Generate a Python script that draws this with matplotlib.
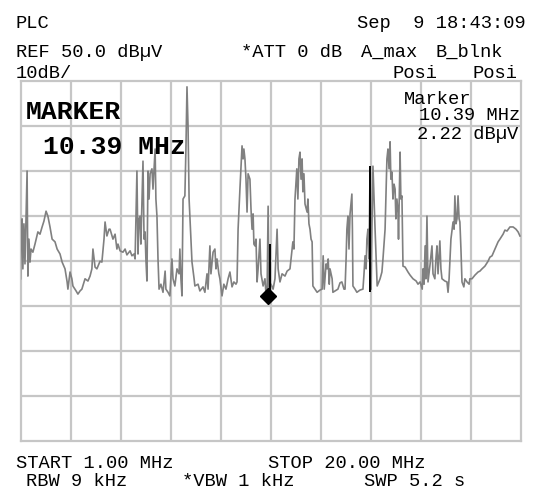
import matplotlib
matplotlib.use("Agg")
import matplotlib.pyplot as plt

# trace A (max hold): frequency in MHz, level in dBuV
freq_mhz = [
    1.00, 1.02, 1.06, 1.09, 1.13, 1.17, 1.21, 1.25, 1.27, 1.28, 1.32, 1.36, 1.40, 1.47, 1.55,
    1.66, 1.74, 1.82, 1.89, 1.97, 2.04, 2.12, 2.20, 2.31, 2.39, 2.50, 2.58, 2.69, 2.77, 2.80,
    2.88, 2.95, 2.99, 3.11, 3.18, 3.26, 3.33, 3.45, 3.56, 3.64, 3.71, 3.75, 3.83, 3.90, 4.02,
    4.09, 4.17, 4.21, 4.28, 4.36, 4.40, 4.51, 4.59, 4.66, 4.70, 4.78, 4.89, 4.97, 5.04, 5.16,
    5.23, 5.31, 5.35,
    5.42, 5.46, 5.50, 5.54, 5.57, 5.65, 5.69, 5.73, 5.76, 5.80, 5.84, 5.88, 5.92, 5.99, 6.03,
    6.11, 6.14, 6.18, 6.22, 6.26, 6.33, 6.41, 6.49, 6.52, 6.60, 6.67, 6.75, 6.79, 6.86, 6.94,
    7.02, 7.05, 7.09, 7.13, 7.17, 7.24, 7.28, 7.32, 7.36, 7.40, 7.43, 7.47, 7.51, 7.59, 7.62,
    7.74, 7.81, 7.93, 8.00, 8.08, 8.12, 8.19, 8.23, 8.31, 8.38, 8.42, 8.46, 8.53, 8.57, 8.65,
    8.72, 8.80, 8.88, 8.95, 9.03, 9.10, 9.18, 9.22,
    9.26, 9.33, 9.41, 9.45, 9.48, 9.52, 9.56, 9.60, 9.64, 9.71, 9.75, 9.79, 9.83, 9.86, 9.90,
    9.94, 9.98, 10.02, 10.09, 10.13, 10.21, 10.28, 10.32, 10.36, 10.40, 10.43, 10.51, 10.59,
    10.66, 10.74, 10.78, 10.85, 10.93, 11.04, 11.12, 11.23, 11.27, 11.34, 11.38, 11.42, 11.49,
    11.53, 11.57, 11.61, 11.65, 11.69, 11.72, 11.76, 11.80, 11.88, 11.91, 11.95, 11.99, 12.03,
    12.07, 12.10, 12.18, 12.26, 12.37, 12.45, 12.49, 12.53, 12.60, 12.64, 12.68, 12.72, 12.75,
    12.83, 12.86, 12.94, 13.05, 13.13, 13.20, 13.28, 13.32, 13.36, 13.39, 13.43, 13.47, 13.51,
    13.58, 13.60, 13.62, 13.70, 13.77, 13.89, 14.00, 14.04, 14.08, 14.12, 14.15, 14.19, 14.23,
    14.27, 14.31, 14.34, 14.38, 14.42, 14.46, 14.50, 14.54, 14.65, 14.72, 14.76, 14.84, 14.88,
    14.91, 14.95, 14.99, 15.03, 15.06, 15.10, 15.14, 15.18, 15.22, 15.25, 15.29, 15.33, 15.35,
    15.37, 15.41, 15.44, 15.48, 15.52, 15.60, 15.71, 15.79, 15.90, 16.02, 16.09, 16.17, 16.25,
    16.28, 16.32, 16.36, 16.39, 16.43, 16.47, 16.55, 16.62, 16.66, 16.73, 16.77, 16.81, 16.85,
    16.92, 16.96, 17.00, 17.11, 17.19, 17.23, 17.27, 17.30, 17.34, 17.42, 17.46, 17.49, 17.53,
    17.57, 17.61, 17.65, 17.68, 17.72, 17.76, 17.83, 17.87, 17.95, 18.03, 18.06, 18.14, 18.25,
    18.37, 18.44, 18.52, 18.63, 18.75, 18.82, 18.90, 19.01, 19.13, 19.20, 19.32, 19.39, 19.47,
    19.58, 19.70, 19.81, 19.89, 19.96,
]
level_dbuv = [
    6.0, 14.8, 19.3, 8.2, 18.2, 9.3, 19.3, 29.9, 14.8, 6.6, 14.8, 9.7, 12.6, 11.9, 13.7,
    16.4, 15.9, 17.5, 18.8, 21.0, 19.9, 17.5, 14.8, 14.2, 12.6, 11.5, 9.7, 8.2, 5.3, 3.7,
    7.5, 6.0, 4.4, 3.3, 2.6, 3.3, 3.7, 6.0, 5.5, 6.6, 8.2, 12.6, 8.6, 8.2, 9.9,
    9.7, 14.8, 18.6, 15.5, 17.0, 17.0, 14.8, 15.9, 12.6, 13.7, 12.2, 11.9, 12.6, 11.3, 12.2,
    11.1, 11.5, 10.4,
    29.9, 11.5, 19.3, 19.9, 13.7, 32.1, 14.8, 16.4, 10.4, 5.5, 29.9, 23.7, 29.3, 30.4, 25.9,
    34.8, 23.7, 19.9, 10.4, 3.7, 4.8, 3.0, 7.7, 3.7, 3.0, 2.2, 10.4, 6.0, 4.4, 8.2,
    7.1, 12.6, 6.0, 2.2, 23.7, 24.4, 34.8, 48.6, 39.9, 23.7, 19.9, 14.8, 9.7, 6.0, 4.4,
    4.8, 3.3, 4.2, 3.0, 7.1, 3.7, 13.3, 7.1, 11.9, 12.6, 8.2, 10.4, 7.1, 6.0, 2.2,
    4.8, 3.7, 6.0, 7.5, 4.2, 5.3, 4.8, 5.3,
    17.0, 25.9, 35.5, 32.6, 34.8, 32.6, 28.1, 20.8, 29.3, 28.1, 21.5, 17.0, 20.4, 13.7, 13.3,
    14.8, 5.3, 8.2, 14.8, 7.1, 4.4, 6.0, 2.6, 2.2, 22.1, 3.7, 4.8, 3.7,
    6.0, 17.0, 8.2, 5.3, 7.1, 6.6, 7.7, 8.2, 10.4, 14.2, 12.6, 23.7, 30.4,
    23.7, 32.6, 34.1, 28.1, 32.6, 25.3, 29.3, 22.6, 20.8, 23.7, 18.2, 17.0, 14.8,
    14.2, 4.4, 3.7, 3.0, 3.5, 3.7, 11.1, 3.7, 9.3, 8.2, 10.4, 4.8, 8.2,
    6.0, 3.0, 3.3, 3.7, 5.1, 5.3, 3.7, 3.7, 10.4, 17.0, 19.9, 12.6, 20.4,
    24.8, 17.0, 4.4, 3.7, 3.0, 3.5, 3.7, 7.1, 11.1, 8.2, 14.8, 17.0, 10.4,
    30.4, 3.7, 17.0, 31.0, 23.7, 17.0, 10.4, 4.4, 6.0, 7.5, 10.4, 17.0, 25.9,
    32.6, 34.8, 30.4, 36.4, 28.1, 29.7, 23.7, 27.0, 25.9, 19.3, 23.7, 20.8, 14.8,
    21.5, 34.1, 23.7, 24.4, 8.8, 8.6, 7.5, 6.8, 6.0, 5.5, 4.8, 5.3, 3.7,
    8.2, 4.8, 13.3, 6.0, 19.9, 5.3, 9.3, 13.3, 7.1, 6.0, 10.4, 13.3, 7.1,
    14.4, 8.2, 6.0, 5.5, 5.3, 3.0, 6.0, 9.7, 14.8, 18.6, 17.0, 24.4, 18.2,
    19.3, 24.4, 19.3, 18.6, 12.6, 5.3, 4.2, 6.0, 5.3, 4.8, 6.0, 6.0, 6.8,
    7.5, 7.7, 8.2, 8.8, 9.9, 10.8, 11.1, 12.6, 14.2, 14.8, 15.9, 16.8, 16.6,
    17.5, 17.5, 17.0, 16.4, 15.5,
]

# darker overlapping segments (freq, low, high)
dark_freq = [10.47, 14.27]
dark_low = [2.2, 3.0]
dark_high = [13.7, 31.0]

marker_freq = 10.39
marker_level = 2.22

start_mhz, stop_mhz = 1.0, 20.0
ref_level = 50.0
db_per_div = 10
n_ydiv = 8
n_xdiv = 10

W, H = 538, 489
fig = plt.figure(figsize=(W / 100, H / 100), dpi=100)
fig.patch.set_facecolor("white")

left, right, top, bottom = 20.5, 521, 81.5, 442
ax = fig.add_axes([left / W, 1 - bottom / H, (right - left) / W, (bottom - top) / H])
ax.set_xlim(start_mhz, stop_mhz)
ax.set_ylim(ref_level - n_ydiv * db_per_div, ref_level)
ax.set_xticks([])
ax.set_yticks([])

grid_col = "#c6c6c6"
span = (stop_mhz - start_mhz) / n_xdiv
for i in range(1, n_xdiv):
    ax.axvline(start_mhz + i * span, color=grid_col, lw=1.6, zorder=1)
for j in range(1, n_ydiv):
    ax.axhline(ref_level - j * db_per_div, color=grid_col, lw=1.6, zorder=1)
for s in ax.spines.values():
    s.set_color(grid_col)
    s.set_linewidth(1.6)

ax.plot(freq_mhz, level_dbuv, color="#808080", lw=1.2, zorder=3)
ax.vlines(dark_freq, dark_low, dark_high, color="black", lw=1.4, zorder=4)
ax.plot([marker_freq], [marker_level], marker="D", color="black", ms=8, zorder=5)

mono = "Liberation Mono"
small = 13.5


def put(x, y, s, size=small, weight="normal", ha="left"):
    fig.text(x / W, 1 - y / H, s, family=mono, fontsize=size, weight=weight,
             ha=ha, va="baseline", color="black")


put(15.5, 28, "PLC")
put(526, 28, "Sep  9 18:43:09", ha="right")
put(15.5, 57, "REF 50.0 dBµV")
put(241, 57, "*ATT 0 dB")
put(361, 57, "A_max")
put(436, 57, "B_blnk")
put(15.5, 78, "10dB/")
put(392, 78, "Posi")
put(473, 78, "Posi")
put(471, 104, "Marker", ha="right")
put(520, 120, "10.39 MHz", ha="right")
put(518, 139, "2.22 dBµV", ha="right")
put(26, 119, "MARKER", size=19, weight="bold")
put(43, 154, "10.39 MHz", size=19, weight="bold")
put(15.5, 468, "START 1.00 MHz")
put(267.5, 468, "STOP 20.00 MHz")
put(26, 486, "RBW 9 kHz")
put(182, 486, "*VBW 1 kHz")
put(364.5, 486, "SWP 5.2 s")

fig.savefig("out.png", dpi=100, facecolor="white")
